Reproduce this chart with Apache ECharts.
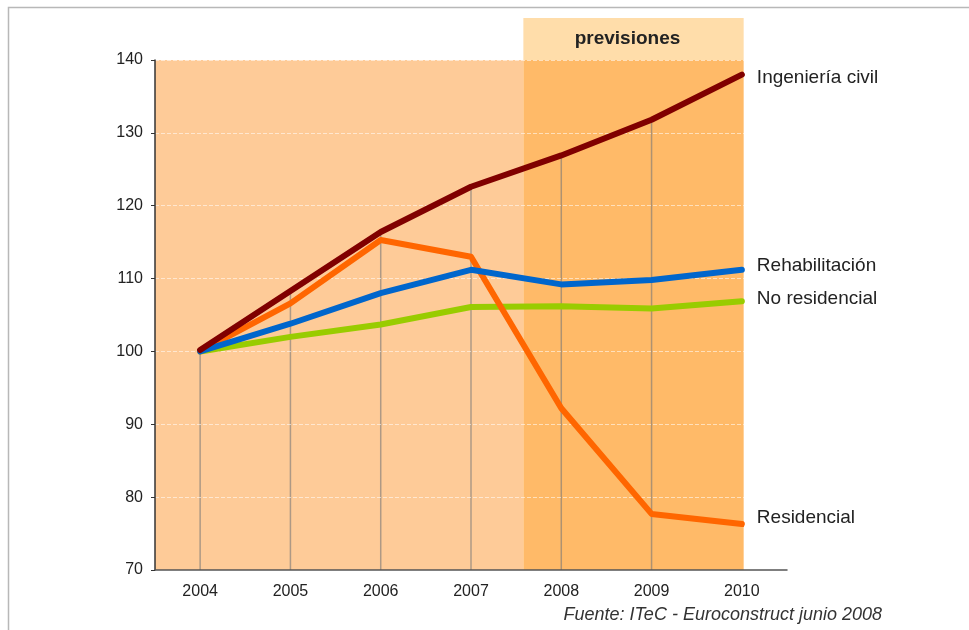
<!DOCTYPE html>
<html>
<head>
<meta charset="utf-8">
<script src="https://cdn.jsdelivr.net/npm/echarts@6/dist/echarts.min.js"></script>
<style>
html,body{margin:0;padding:0;background:#fff;}
#c{width:969px;height:630px;}
</style>
</head>
<body>
<div id="c"></div>
<script>
// ---- data ----
const years = ['2004', '2005', '2006', '2007', '2008', '2009', '2010'];
const ingenieriaCivil = [100.2, 108.3, 116.4, 122.6, 126.9, 131.8, 138.0];
const rehabilitacion  = [100.0, 103.8, 108.0, 111.2, 109.2, 109.8, 111.2];
const noResidencial   = [100.0, 102.0, 103.7, 106.1, 106.2, 105.9, 106.9];
const residencial     = [100.0, 106.6, 115.3, 113.0, 92.2, 77.7, 76.3];
const seriesNames = ['Ingeniería civil', 'Rehabilitación', 'No residencial', 'Residencial'];
const yMin = 70, yMax = 140, yStep = 10;
const forecastLabel = 'previsiones';
const sourceText = 'Fuente: ITeC - Euroconstruct junio 2008';
// shaded periods in category-index units (2004 = 0)
const shadeFrom = -0.5, forecastFrom = 3.58, shadeTo = 6.02;

const FONT = '"Liberation Sans", Arial, sans-serif';
const chart = echarts.init(document.getElementById('c'), null, {renderer: 'canvas'});

// drop lines from the top series to the axis (none at last year)
const dropLines = ingenieriaCivil.map((v, i) => i === ingenieriaCivil.length - 1 ? '-' : v);

function lineSeries(name, data, color, dy) {
  return {
    name: name, type: 'line', data: data, symbol: 'none', silent: true,
    lineStyle: {color: color, width: 6, cap: 'round', join: 'round'},
    itemStyle: {color: color},
    z: 5,
    endLabel: {
      show: true, formatter: name, distance: 15, offset: [0, dy],
      color: '#222', fontFamily: FONT, fontSize: 19
    }
  };
}

chart.setOption({
  animation: false,
  grid: {left: 155, right: 182, top: 60, bottom: 60, containLabel: false},
  xAxis: [{
    type: 'category', data: years, boundaryGap: true, z: 3,
    axisLine: {onZero: false, lineStyle: {color: '#555', width: 1.5}},
    axisTick: {show: false},
    axisLabel: {color: '#222', fontFamily: FONT, fontSize: 16, margin: 14},
    splitLine: {show: false}
  }, {
    type: 'value', min: -0.5, max: 6.5, show: false
  }],
  yAxis: {
    type: 'value', min: yMin, max: yMax, interval: yStep, z: 3,
    axisLine: {show: true, onZero: false, lineStyle: {color: '#333', width: 1.5}},
    axisTick: {show: true, length: 4, lineStyle: {color: '#333'}},
    axisLabel: {color: '#222', fontFamily: FONT, fontSize: 16, margin: 12},
    splitLine: {show: true, lineStyle: {color: 'rgba(255,255,255,0.55)', width: 1.2, type: [4, 2]}}
  },
  series: [
    {
      type: 'line', xAxisIndex: 1, yAxisIndex: 0, data: [], silent: true, z: 0,
      markArea: {
        silent: true,
        data: [
          [{xAxis: shadeFrom, yAxis: yMin, itemStyle: {color: '#FECB98'}}, {xAxis: forecastFrom, yAxis: yMax}],
          [{xAxis: forecastFrom, yAxis: yMin, itemStyle: {color: '#FFBA68'}}, {xAxis: shadeTo, yAxis: yMax}]
        ]
      }
    },
    {
      type: 'bar', data: dropLines, barWidth: 1.5, silent: true, z: 2,
      itemStyle: {color: 'rgba(120,120,120,0.6)'}
    },
    lineSeries(seriesNames[2], noResidencial, '#99CC00', -2),
    lineSeries(seriesNames[3], residencial, '#FF6600', -6),
    lineSeries(seriesNames[1], rehabilitacion, '#0066CC', -4),
    lineSeries(seriesNames[0], ingenieriaCivil, '#800000', 3)
  ]
});

// decorations positioned through the chart's own scales
const bx0 = chart.convertToPixel({xAxisIndex: 1}, forecastFrom);
const bx1 = chart.convertToPixel({xAxisIndex: 1}, shadeTo);
const yTop = chart.convertToPixel({yAxisIndex: 0}, yMax);
const boxH = 42;
chart.setOption({
  graphic: [
    {type: 'rect', silent: true, z: -10,
     shape: {x: 8.5, y: 7.5, width: 1100, height: 800},
     style: {fill: 'none', stroke: '#b8b8b8', lineWidth: 1.5}},
    {type: 'rect', silent: true, z: 1,
     shape: {x: bx0, y: yTop - boxH, width: bx1 - bx0, height: boxH},
     style: {fill: '#FFDDAA'}},
    {type: 'text', silent: true, z: 2,
     x: (bx0 + bx1) / 2 - 6, y: yTop - boxH / 2,
     style: {text: forecastLabel, fill: '#222', font: 'bold 19px ' + FONT, align: 'center', verticalAlign: 'middle'}},
    {type: 'text', silent: true, z: 2,
     right: 87, top: 606,
     style: {text: sourceText, fill: '#333', font: 'italic 18px ' + FONT}}
  ]
});
</script>
</body>
</html>
